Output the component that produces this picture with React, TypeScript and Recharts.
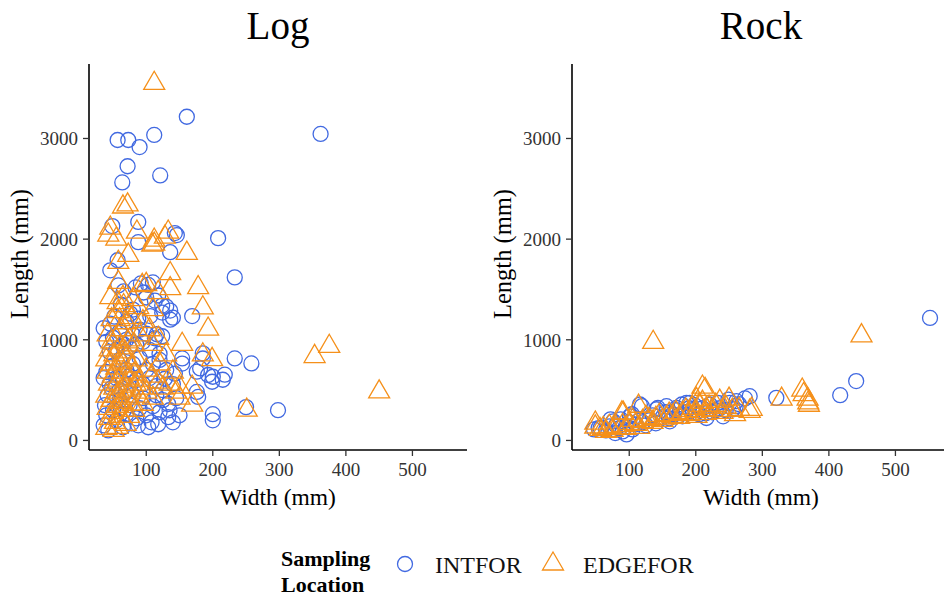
import { ScatterChart, Scatter, XAxis, YAxis } from 'recharts'

const BLUE = '#4169E1'
const ORANGE = '#F5901A'
const SERIF = '"Liberation Serif", "Times New Roman", serif'

// [width (mm), length (mm)]
const logIntfor: Array<[number, number]> = [
  [161, 3216], [362, 3045], [112, 3035], [57, 2985], [73, 2985], [90, 2915], [72, 2724], [64, 2563], [121, 2633],
  [49, 2130], [88, 2171], [88, 1970], [143, 2060], [146, 2040], [136, 1870], [208, 2010], [233, 1620], [57, 1790], [46, 1690],
  [58, 1540], [84, 1520], [103, 1545], [96, 1470], [92, 1560], [113, 1390], [124, 1340], [136, 1290], [169, 1236],
  [106, 1236], [136, 1200], [124, 1270], [88, 1210], [76, 1260], [70, 1180], [46, 1160], [36, 1115], [52, 1230],
  [80, 1300], [100, 1420], [118, 1440], [130, 1330], [140, 1220], [62, 1350], [110, 1570], [66, 1480],
  [116, 1055], [113, 1015], [124, 1035], [100, 1060], [90, 1100], [80, 1050], [70, 1000], [60, 1080], [50, 1020],
  [40, 980], [95, 980], [85, 950], [75, 920], [65, 960], [55, 900], [45, 880], [105, 900], [120, 860],
  [154, 815], [185, 865], [181, 715], [200, 633], [218, 653], [193, 650], [233, 815], [258, 765], [154, 764],
  [176, 683], [185, 814], [199, 583], [215, 603], [128, 613], [143, 663], [120, 800], [130, 700], [110, 760],
  [100, 700], [90, 820], [80, 760], [70, 700], [60, 800], [50, 740], [40, 680], [36, 620], [45, 560], [55, 620],
  [65, 580], [75, 640], [85, 600], [95, 560], [105, 620], [115, 540], [125, 500], [140, 560],
  [176, 482], [178, 432], [200, 261], [200, 200], [250, 331], [298, 301], [133, 362], [133, 231], [118, 161],
  [103, 131], [88, 150], [43, 100], [36, 150], [40, 250], [38, 350], [42, 450], [50, 300], [55, 200], [60, 400],
  [65, 130], [70, 260], [75, 350], [80, 450], [85, 220], [90, 320], [95, 420], [100, 250], [108, 180], [110, 340],
  [115, 450], [120, 280], [125, 400], [135, 300], [140, 180], [150, 250], [145, 420], [60, 500], [48, 520],
  [70, 480], [78, 170], [62, 320],
]

const logEdgefor: Array<[number, number]> = [
  [112, 3548], [72, 2340], [65, 2320], [46, 2110], [55, 2000], [86, 2070], [133, 2070], [112, 1990], [112, 1950],
  [161, 1860], [73, 1840], [58, 1770], [136, 1658], [136, 1508], [178, 1518], [185, 1317], [193, 1106], [154, 955],
  [199, 804], [185, 850], [353, 834], [375, 935], [450, 482], [251, 301], [169, 352], [169, 530], [51, 100],
  [43, 2040], [109, 1940], [128, 2020], [58, 1570], [46, 1420], [57, 1370], [66, 1340], [94, 1540], [118, 1470],
  [42, 1050], [48, 980], [55, 1010], [62, 1100], [70, 1170], [78, 1220], [45, 900], [52, 850], [60, 920], [68, 880],
  [75, 1000], [82, 950], [40, 800], [47, 760], [55, 720], [63, 780], [70, 820], [78, 740], [86, 800], [42, 680],
  [50, 640], [58, 600], [66, 680], [74, 620], [82, 660], [90, 600], [44, 560], [52, 520], [60, 480], [68, 540],
  [76, 500], [84, 560], [92, 520], [40, 440], [48, 400], [56, 440], [64, 380], [72, 420], [80, 360], [88, 440],
  [42, 320], [50, 280], [58, 340], [66, 300], [74, 240], [82, 300], [45, 220], [53, 180], [61, 240], [69, 160],
  [40, 120], [57, 130], [100, 700], [108, 640], [118, 580], [125, 520], [135, 560], [145, 480], [150, 420],
  [118, 1015], [109, 955], [105, 1100], [95, 1180], [130, 850], [140, 680], [100, 480], [110, 420], [95, 360],
  [150, 530], [120, 760], [90, 1050], [58, 1280], [48, 1200], [65, 1420], [80, 1400], [100, 1550], [88, 1320],
  [110, 1300], [72, 980], [60, 1200],
]

const rockIntfor: Array<[number, number]> = [
  [552, 1217], [441, 590], [417, 450], [321, 423], [274, 417], [281, 440], [261, 390], [249, 405], [256, 310],
  [236, 320], [186, 373], [198, 350], [171, 323], [141, 310], [119, 340], [104, 260], [72, 210], [47, 110],
  [57, 123], [79, 73], [96, 60], [161, 190], [216, 223], [241, 240], [116, 357], [143, 323], [156, 340],
  [179, 357], [191, 373], [221, 357], [233, 373], [251, 373], [54, 123], [76, 190], [87, 210], [101, 240],
  [65, 100], [85, 120], [95, 140], [110, 160], [120, 180], [130, 200], [150, 230], [165, 260], [175, 250],
  [185, 280], [195, 300], [205, 260], [210, 320], [225, 280], [245, 300], [260, 340], [265, 360], [90, 90],
  [105, 110], [125, 150], [140, 170], [160, 220], [180, 240], [200, 280], [230, 300], [215, 270], [100, 180],
  [80, 150], [70, 140], [115, 200], [135, 250], [155, 280], [170, 300], [190, 320],
]

const rockEdgefor: Array<[number, number]> = [
  [136, 975], [449, 1040], [210, 530], [360, 500], [362, 455], [368, 410], [369, 373], [370, 350], [329, 410],
  [281, 290], [250, 410], [236, 390], [201, 407], [114, 340], [89, 273], [49, 173], [56, 110], [214, 507],
  [49, 134], [61, 120], [91, 270], [156, 223], [201, 240], [216, 310], [284, 310], [259, 257],
  [70, 140], [80, 130], [90, 150], [100, 170], [105, 200], [110, 160], [120, 190], [125, 230], [130, 210],
  [140, 220], [145, 250], [150, 200], [160, 260], [165, 240], [170, 280], [175, 230], [180, 270], [185, 300],
  [190, 260], [195, 320], [200, 290], [205, 350], [210, 380], [215, 270], [220, 330], [225, 300], [230, 350],
  [240, 280], [245, 330], [255, 300], [265, 310], [95, 120], [75, 100], [65, 90], [115, 130], [135, 180],
]

const xTicks = [100, 200, 300, 400, 500]
const yTicks = [0, 1000, 2000, 3000]

const toPoints = (rows: Array<[number, number]>) => rows.map(([w, l]) => ({ w, l }))

const CircleMark = (props: any) => {
  const { cx, cy } = props
  if (cx == null || cy == null) return null
  return <circle cx={cx} cy={cy} r={7.5} fill="none" stroke={BLUE} strokeWidth={1.3} />
}

const TriangleMark = (props: any) => {
  const { cx, cy } = props
  if (cx == null || cy == null) return null
  const r = 12.1
  const h = 10.5
  return (
    <polygon
      points={`${cx},${cy - r} ${cx + h},${cy + r / 2} ${cx - h},${cy + r / 2}`}
      fill="none"
      stroke={ORANGE}
      strokeWidth={1.3}
    />
  )
}

const tickStyle = { fill: '#333', fontSize: 19, fontFamily: SERIF }

function Panel({ left, intfor, edgefor }: { left: number; intfor: Array<[number, number]>; edgefor: Array<[number, number]> }) {
  return (
    <div style={{ position: 'absolute', left, top: 0 }}>
      <ScatterChart width={478} height={530} margin={{ top: 64, right: 11, bottom: 0, left: 0 }}>
        <XAxis
          type="number"
          dataKey="w"
          domain={[14, 582]}
          ticks={xTicks}
          interval={0}
          allowDataOverflow
          height={80}
          tickSize={6}
          tickMargin={7}
          axisLine={{ stroke: '#000', strokeWidth: 1.6 }}
          tickLine={{ stroke: '#333', strokeWidth: 1.3 }}
          tick={tickStyle}
        />
        <YAxis
          type="number"
          dataKey="l"
          domain={[-95, 3740]}
          ticks={yTicks}
          interval={0}
          allowDataOverflow
          width={89}
          tickSize={6}
          tickMargin={5}
          axisLine={{ stroke: '#000', strokeWidth: 1.6 }}
          tickLine={{ stroke: '#333', strokeWidth: 1.3 }}
          tick={tickStyle}
        />
        <Scatter data={toPoints(intfor)} shape={CircleMark} isAnimationActive={false} />
        <Scatter data={toPoints(edgefor)} shape={TriangleMark} isAnimationActive={false} />
      </ScatterChart>
    </div>
  )
}

export default function App() {
  return (
    <div style={{ position: 'absolute', left: 0, top: 0, width: 944, height: 597, overflow: 'hidden', background: '#fff' }}>
      <Panel left={0} intfor={logIntfor} edgefor={logEdgefor} />
      <Panel left={483} intfor={rockIntfor} edgefor={rockEdgefor} />
      <svg width={944} height={597} style={{ position: 'absolute', left: 0, top: 0, pointerEvents: 'none' }} fontFamily={SERIF}>
        <text x={278} y={39} fontSize={39} textAnchor="middle" fill="#000">Log</text>
        <text x={761} y={39} fontSize={39} textAnchor="middle" fill="#000">Rock</text>
        <text x={278} y={505} fontSize={23.5} textAnchor="middle" fill="#000">Width (mm)</text>
        <text x={761} y={505} fontSize={23.5} textAnchor="middle" fill="#000">Width (mm)</text>
        <text transform="translate(28,254) rotate(-90)" fontSize={24.5} textAnchor="middle" fill="#000">Length (mm)</text>
        <text transform="translate(511,254) rotate(-90)" fontSize={24.5} textAnchor="middle" fill="#000">Length (mm)</text>
        <text x={281} y={566} fontSize={22} fontWeight="bold" fill="#000">Sampling</text>
        <text x={281} y={592} fontSize={22} fontWeight="bold" fill="#000">Location</text>
        <circle cx={405} cy={564} r={7.5} fill="none" stroke={BLUE} strokeWidth={1.3} />
        <text x={435} y={573} fontSize={24} fill="#111">INTFOR</text>
        <polygon points="553,552 563.5,570 542.5,570" fill="none" stroke={ORANGE} strokeWidth={1.3} />
        <text x={583} y={573} fontSize={24} fill="#111">EDGEFOR</text>
      </svg>
    </div>
  )
}
